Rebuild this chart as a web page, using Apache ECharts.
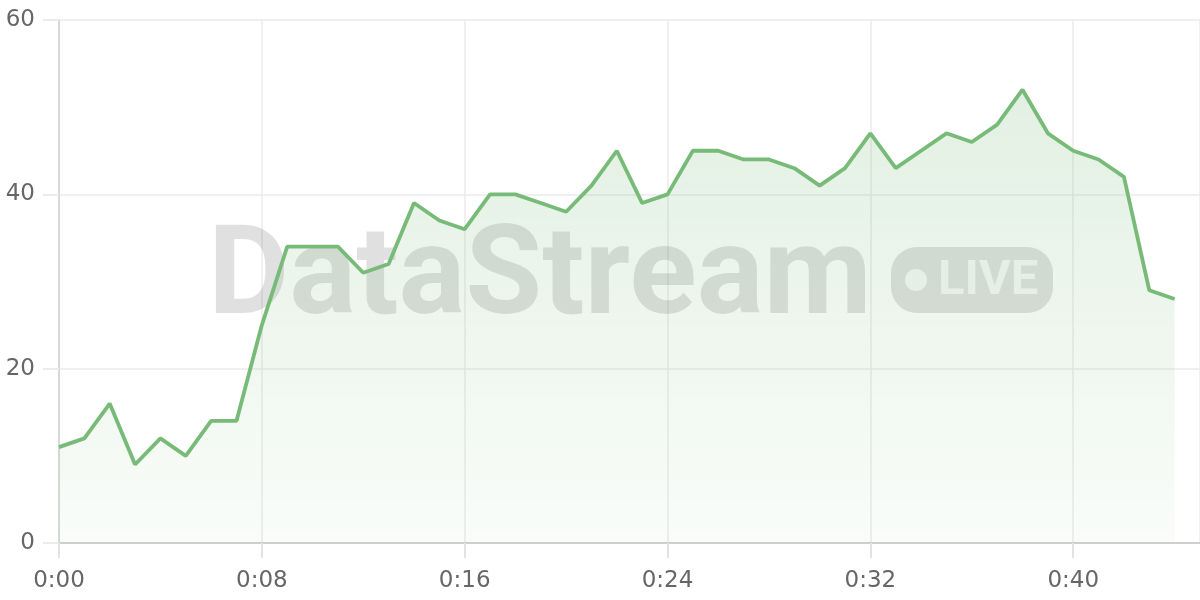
<!DOCTYPE html>
<html>
<head>
<meta charset="utf-8">
<script src="https://cdn.jsdelivr.net/npm/echarts@6/dist/echarts.min.js"></script>
<style>html,body{margin:0;padding:0;background:#fff}#c{width:1200px;height:600px}</style>
</head>
<body>
<div id="c"></div>
<script>
const minutes = [0,1,2,3,4,5,6,7,8,9,10,11,12,13,14,15,16,17,18,19,20,21,22,23,24,25,26,27,28,29,30,31,32,33,34,35,36,37,38,39,40,41,42,43,44];
const values = [11,12,16,9,12,10,14,14,25,34,34,34,31,32,39,37,36,40,40,39,38,41,45,39,40,45,45,44,44,43,41,43,47,43,45,47,46,48,52,47,45,44,42,29,28];
const yTicks = [0,20,40,60];
const xTickStep = 8;

const chart = echarts.init(document.getElementById('c'), null, {renderer:'canvas'});
const FONT = 'DejaVu Sans';
chart.setOption({
  animation:false,
  grid:{left:59,right:0,top:20,bottom:57},
  xAxis:{
    type:'value', min:0, max:45, interval:xTickStep,
    axisLine:{lineStyle:{color:'#cfcfcf',width:2}},
    axisTick:{show:true,length:15,lineStyle:{color:'#e3e3e3',width:2}},
    splitLine:{show:true,lineStyle:{color:'#ebebeb',width:1.5}},
    axisLabel:{color:'#666',fontSize:23,fontFamily:FONT,margin:27,
      showMaxLabel:false,
      formatter:v=> (v % xTickStep===0) ? ('0:' + String(v).padStart(2,'0')) : ''}
  },
  yAxis:{
    type:'value', min:yTicks[0], max:yTicks[yTicks.length-1], interval:yTicks[1]-yTicks[0],
    axisLine:{show:true,lineStyle:{color:'#d8d8d8',width:2}},
    axisTick:{show:true,length:16,lineStyle:{color:'#ebebeb',width:2}},
    splitLine:{show:true,lineStyle:{color:'#ebebeb',width:1.5}},
    axisLabel:{color:'#666',fontSize:23,fontFamily:FONT,margin:24}
  },
  graphic:[
    {type:'text',z:1,left:208,top:219,style:{text:'DataStream',fontFamily:'Roboto',fontWeight:'bold',fontSize:125,fill:'rgba(0,0,0,0.12)'}},
    {type:'rect',z:1,shape:{x:891,y:247,width:162,height:66,r:26},style:{fill:'rgba(0,0,0,0.12)'}},
    {type:'circle',z:1,shape:{cx:916,cy:280,r:11},style:{fill:'rgba(255,255,255,0.75)'}},
    {type:'text',z:1,left:938,top:257,style:{text:'LIVE',fontFamily:'Roboto',fontWeight:'bold',fontSize:49,fill:'rgba(255,255,255,0.75)'}}
  ],
  series:[{
    type:'line', z:3,
    data: minutes.map((m,i)=>[m,values[i]]),
    symbol:'none',
    lineStyle:{color:'#78bb78',width:3.8},
    areaStyle:{color:new echarts.graphic.LinearGradient(0,0,0,1,[
      {offset:0,color:'rgba(118,185,119,0.30)'},
      {offset:1,color:'rgba(118,185,119,0.06)'}])}
  }]
});
</script>
</body>
</html>
